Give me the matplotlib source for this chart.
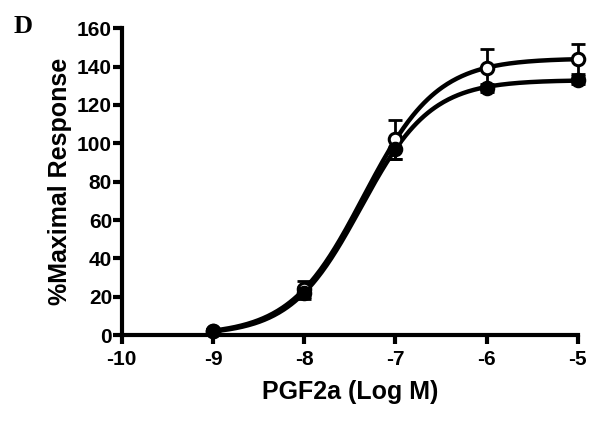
import matplotlib
matplotlib.use("Agg")
import matplotlib.pyplot as plt
import numpy as np

# data
log_dose = np.array([-9, -8, -7, -6, -5])
filled_mean = np.array([2, 22, 97, 129, 133])
filled_err = np.array([1, 3, 5, 2, 2])
open_mean = np.array([2, 24, 102, 139, 144])
open_err = np.array([1, 4, 10, 10, 8])

x_ticks = [-10, -9, -8, -7, -6, -5]
y_ticks = [0, 20, 40, 60, 80, 100, 120, 140, 160]


def fit_hill(x, y):
    # bottom fixed at 0; grid over ec50 and slope, top by least squares
    best = None
    for ec in np.linspace(-8.5, -6.0, 251):
        for h in np.linspace(0.4, 2.5, 211):
            f = 1.0 / (1.0 + 10 ** ((ec - x) * h))
            top = np.dot(f, y) / np.dot(f, f)
            sse = np.sum((y - top * f) ** 2)
            if best is None or sse < best[0]:
                best = (sse, top, ec, h)
    return best[1:]


def hill(x, top, ec, h):
    return top / (1.0 + 10 ** ((ec - x) * h))


plt.rcParams['font.family'] = ['Liberation Sans', 'DejaVu Sans']
plt.rcParams['font.weight'] = 'bold'

fig = plt.figure(figsize=(6, 4.21), dpi=100)
ax = fig.add_axes([0.203, 0.204, 0.76, 0.729])

xs = np.linspace(-9, -5, 300)
# open series first, filled drawn on top
for mean, err, face in [(open_mean, open_err, 'white'), (filled_mean, filled_err, 'black')]:
    p = fit_hill(log_dose, mean)
    ax.plot(xs, hill(xs, *p), color='black', lw=3.2, zorder=3, clip_on=False)
    ax.errorbar(log_dose, mean, yerr=err, fmt='none', ecolor='black',
                elinewidth=2, capsize=5, capthick=2, zorder=2, clip_on=False)
    ax.plot(log_dose, mean, 'o', ms=9, mfc=face, mec='black', mew=2.2,
            zorder=4, clip_on=False)

ax.set_xlim(-10, -5)
ax.set_ylim(0, 160)
ax.set_xticks(x_ticks)
ax.set_yticks(y_ticks)
ax.set_xticklabels([str(v) for v in x_ticks])
ax.spines['top'].set_visible(False)
ax.spines['right'].set_visible(False)
for s in ['left', 'bottom']:
    ax.spines[s].set_linewidth(3)
ax.tick_params(width=3, length=6.5, labelsize=15)
ax.tick_params(axis='y', pad=0.5)
ax.tick_params(axis='x', pad=4)
for lab in ax.get_xticklabels() + ax.get_yticklabels():
    lab.set_fontweight('bold')
ax.set_xlabel('PGF2a (Log M)', fontsize=18, fontweight='bold', labelpad=8)
ax.set_ylabel('%Maximal Response', fontsize=18, fontweight='bold', labelpad=4)
for s in ax.spines.values():
    s.set_clip_on(False)

fig.text(0.022, 0.922, 'D', fontsize=19, fontweight='bold', family='Liberation Serif')

fig.savefig('out.png', dpi=100)
